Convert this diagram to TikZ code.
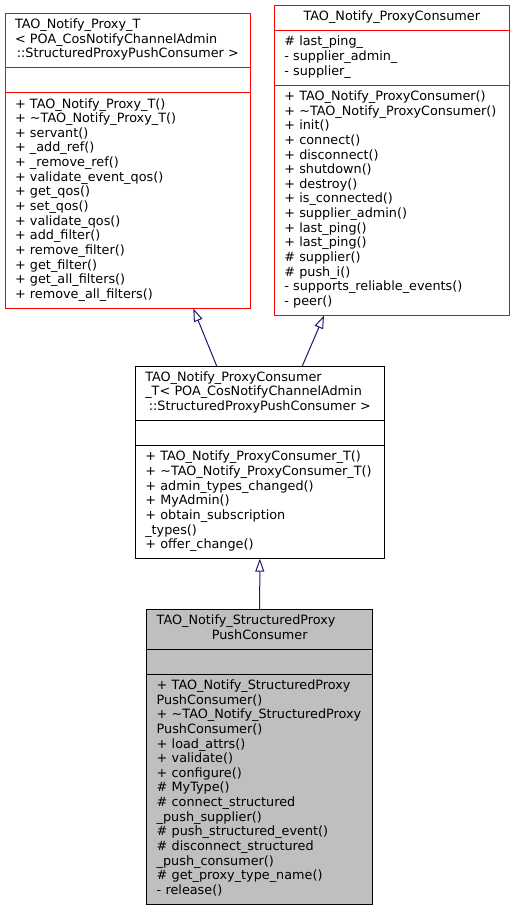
\documentclass[tikz,border=0pt]{standalone}
\usepackage{fontspec}
\setmainfont{DejaVu Sans}
\usetikzlibrary{arrows.meta}
\definecolor{edgeblue}{RGB}{25,25,112}
\definecolor{boxgray}{RGB}{191,191,191}
\definecolor{boxred}{RGB}{255,0,0}
\newcommand{\fld}[1]{\mbox{\rule[-4.75pt]{0pt}{14.65pt}#1}}
\newcommand{\cfld}[1]{\makebox[\hsize]{\rule[-4.75pt]{0pt}{14.65pt}#1}}

\begin{document}
\begin{tikzpicture}[x=1pt, y=-1pt,
        box/.style={line width=1pt, outer sep=0pt, anchor=north west, inner xsep=10pt, inner ysep=5.25pt, align=left, font=\fontsize{12.8}{14.65}\selectfont},
        isa/.style={draw=edgeblue, line width=1pt, -{Triangle[open, length=13pt, width=9pt]}}]
        \useasboundingbox (0,0) rectangle (515,912);

        \node[box, draw=boxred, text width=225.7pt] at (5, 13.3) (proxyT) {\fld{TAO\_Notify\_Proxy\_T}\\\fld{< POA\_CosNotifyChannelAdmin}\\\cfld{::StructuredProxyPushConsumer >}};
        \node[box, draw=boxred, text width=225.7pt] at (proxyT.south west) (proxyTa) {\fld{}};
        \node[box, draw=boxred, text width=225.7pt] at (proxyTa.south west) (proxyTm) {\fld{+ TAO\_Notify\_Proxy\_T()}\\\fld{+ \textasciitilde TAO\_Notify\_Proxy\_T()}\\\fld{+ servant()}\\\fld{+ \_add\_ref()}\\\fld{+ \_remove\_ref()}\\\fld{+ validate\_event\_qos()}\\\fld{+ get\_qos()}\\\fld{+ set\_qos()}\\\fld{+ validate\_qos()}\\\fld{+ add\_filter()}\\\fld{+ remove\_filter()}\\\fld{+ get\_filter()}\\\fld{+ get\_all\_filters()}\\\fld{+ remove\_all\_filters()}};

        \node[box, draw=boxred, text width=215pt] at (274.3, 5.7) (cons) {\cfld{TAO\_Notify\_ProxyConsumer}};
        \node[box, draw=boxred, text width=215pt] at (cons.south west) (consa) {\fld{\# last\_ping\_}\\\fld{- supplier\_admin\_}\\\fld{- supplier\_}};
        \node[box, draw=boxred, text width=215pt] at (consa.south west) (consm) {\fld{+ TAO\_Notify\_ProxyConsumer()}\\\fld{+ \textasciitilde TAO\_Notify\_ProxyConsumer()}\\\fld{+ init()}\\\fld{+ connect()}\\\fld{+ disconnect()}\\\fld{+ shutdown()}\\\fld{+ destroy()}\\\fld{+ is\_connected()}\\\fld{+ supplier\_admin()}\\\fld{+ last\_ping()}\\\fld{+ last\_ping()}\\\fld{\# supplier()}\\\fld{\# push\_i()}\\\fld{- supports\_reliable\_events()}\\\fld{- peer()}};

        \node[box, draw=black, text width=229pt] at (135.3, 366) (consT) {\fld{TAO\_Notify\_ProxyConsumer}\\\fld{\_T< POA\_CosNotifyChannelAdmin}\\\cfld{::StructuredProxyPushConsumer >}};
        \node[box, draw=black, text width=229pt] at (consT.south west) (consTa) {\fld{}};
        \node[box, draw=black, text width=229pt] at (consTa.south west) (consTm) {\fld{+ TAO\_Notify\_ProxyConsumer\_T()}\\\fld{+ \textasciitilde TAO\_Notify\_ProxyConsumer\_T()}\\\fld{+ admin\_types\_changed()}\\\fld{+ MyAdmin()}\\\fld{+ obtain\_subscription}\\\fld{\_types()}\\\fld{+ offer\_change()}};

        \node[box, draw=black, fill=boxgray, text width=206pt] at (146.7, 609.3) (sppc) {\fld{TAO\_Notify\_StructuredProxy}\\\cfld{PushConsumer}};
        \node[box, draw=black, fill=boxgray, text width=206pt] at (sppc.south west) (sppca) {\fld{}};
        \node[box, draw=black, fill=boxgray, text width=206pt] at (sppca.south west) (sppcm) {\fld{+ TAO\_Notify\_StructuredProxy}\\\fld{PushConsumer()}\\\fld{+ \textasciitilde TAO\_Notify\_StructuredProxy}\\\fld{PushConsumer()}\\\fld{+ load\_attrs()}\\\fld{+ validate()}\\\fld{+ configure()}\\\fld{\# MyType()}\\\fld{\# connect\_structured}\\\fld{\_push\_supplier()}\\\fld{\# push\_structured\_event()}\\\fld{\# disconnect\_structured}\\\fld{\_push\_consumer()}\\\fld{\# get\_proxy\_type\_name()}\\\fld{- release()}};

        \draw[isa] ([xshift=-43.1pt]consT.north) -- ([xshift=65.45pt]proxyTm.south);
        \draw[isa] ([xshift=42.5pt]consT.north) -- ([xshift=-67.8pt]consm.south);
        \draw[isa] (sppc.north) -- (consTm.south);
    \end{tikzpicture}
\end{document}
